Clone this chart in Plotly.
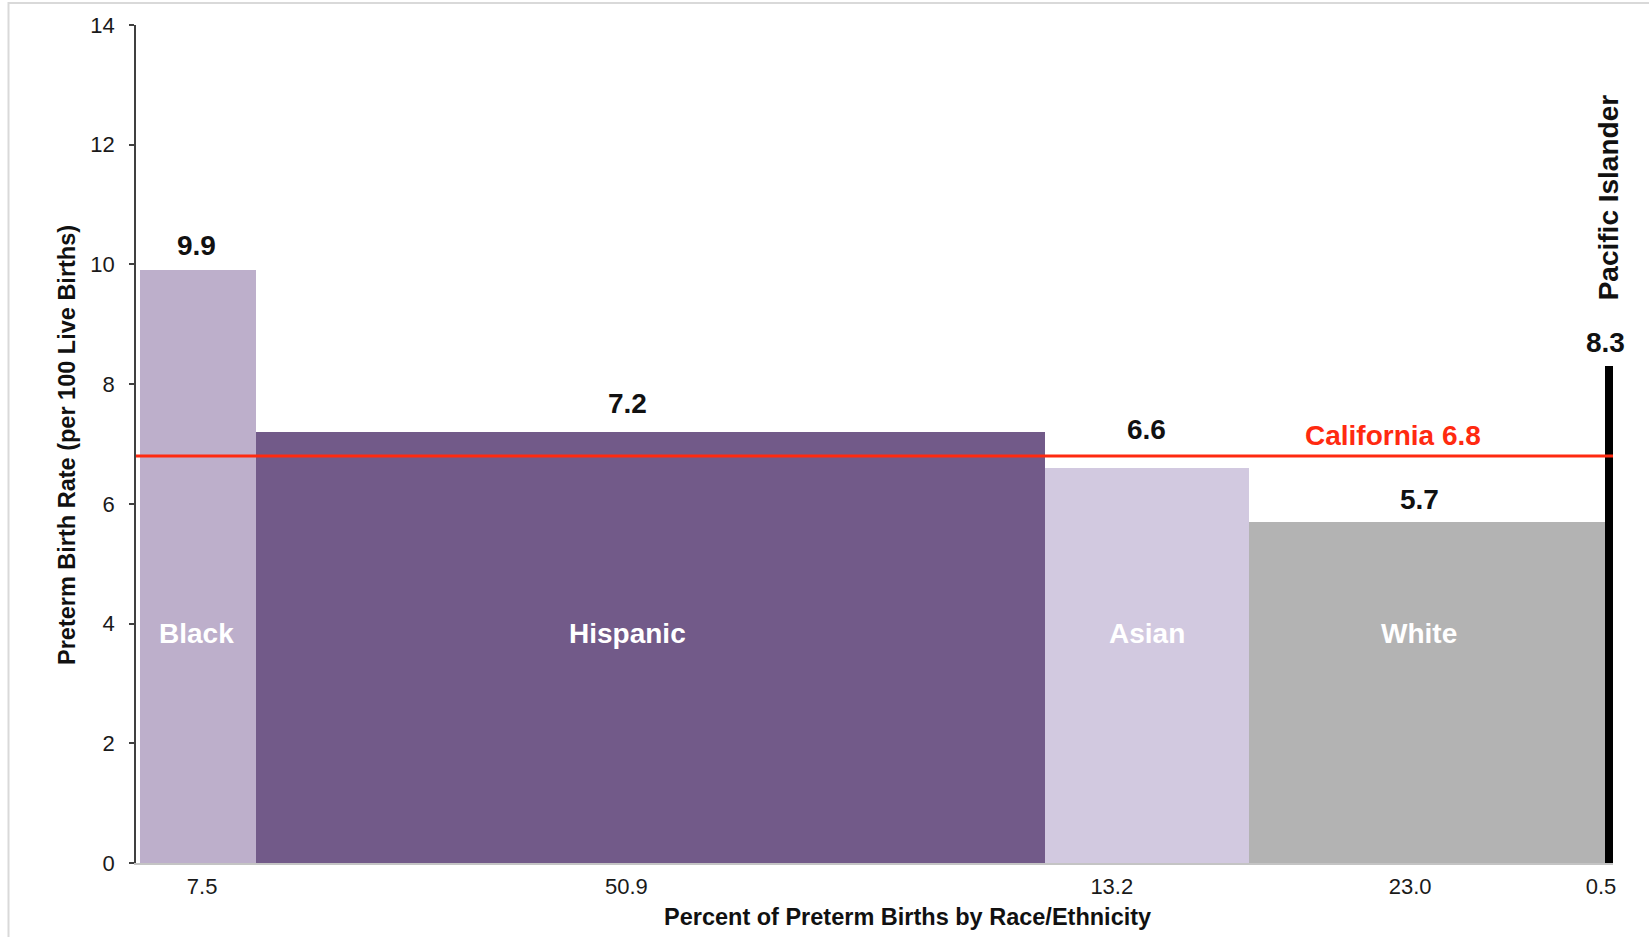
import numpy as np
import plotly.graph_objects as go

# Preterm birth rate and share of preterm births, by race/ethnicity
groups = ["Black", "Hispanic", "Asian", "White", "Pacific Islander"]
share_pct = [7.5, 50.9, 13.2, 23.0, 0.5]      # bar widths (% of preterm births)
rate = [9.9, 7.2, 6.6, 5.7, 8.3]              # bar heights (per 100 live births)
share_labels = ["7.5", "50.9", "13.2", "23.0", "0.5"]
rate_labels = ["9.9", "7.2", "6.6", "5.7", "8.3"]
state_name = "California"
state_rate = 6.8

# styling
bar_colors = ["#bdafcb", "#725a89", "#d2c9e0", "#b3b3b3", "#000000"]
inside_label = [True, True, True, True, False]
label_dx = [-2, -23, 0, -8, -4]               # px nudges for the bar captions
value_lift = [25, 29, 38, 22, 24]             # px above bar top for value labels
tick_nudge = [0.26, -1.55, -2.26, -1.10, -0.52]
FONT = "Liberation Sans, Arial, Helvetica, sans-serif"

W, H = 1649, 937
ML, MR, MT, MB = 136, 36, 25, 74
PW, PH = W - ML - MR, H - MT - MB


def px_x(px):
    return (px - ML) / PW


def px_y(py):
    return (H - MB - py) / PH


widths = np.array(share_pct)
lefts = np.concatenate([[0.0], np.cumsum(widths)[:-1]])
centers = lefts + widths / 2
total = float(widths.sum())

fig = go.Figure()
fig.add_trace(go.Bar(
    x=centers, y=rate, width=widths,
    marker=dict(color=bar_colors, line=dict(width=0)),
    hoverinfo="skip", showlegend=False,
))

annotations = []
for i, g in enumerate(groups):
    annotations.append(dict(
        x=centers[i], y=rate[i], xref="x", yref="y",
        text=rate_labels[i], showarrow=False,
        xanchor="center", yanchor="middle",
        xshift=label_dx[i], yshift=value_lift[i],
        font=dict(family=FONT, size=28, color="#111111", weight="bold"),
    ))
    if inside_label[i]:
        annotations.append(dict(
            x=centers[i], y=3.83, xref="x", yref="y",
            text=g, showarrow=False, xanchor="center", yanchor="middle",
            xshift=label_dx[i],
            font=dict(family=FONT, size=28, color="#ffffff", weight="bold"),
        ))
    else:
        annotations.append(dict(
            x=centers[i], y=rate[i], xref="x", yref="y",
            text=g, showarrow=False, textangle=-90,
            xanchor="center", yanchor="bottom", yshift=64, xshift=-1,
            font=dict(family=FONT, size=28, color="#111111", weight="bold"),
        ))

# state reference line and its label
annotations.append(dict(
    x=80.9, y=state_rate, xref="x", yref="y",
    text=f"{state_name} {state_rate}", showarrow=False,
    xanchor="center", yanchor="middle", yshift=20,
    font=dict(family=FONT, size=28, color="#ff2a10", weight="bold"),
))

# axis titles
annotations.append(dict(
    x=px_x(907), y=px_y(917), xref="paper", yref="paper",
    text="Percent of Preterm Births by Race/Ethnicity", showarrow=False,
    xanchor="center", yanchor="middle",
    font=dict(family=FONT, size=23.5, color="#111111", weight="bold"),
))
annotations.append(dict(
    x=px_x(67), y=px_y(445), xref="paper", yref="paper",
    text="Preterm Birth Rate (per 100 Live Births)", showarrow=False,
    textangle=-90, xanchor="center", yanchor="middle",
    font=dict(family=FONT, size=23.5, color="#111111", weight="bold"),
))

shapes = [
    dict(type="line", xref="paper", yref="y", x0=0, x1=1,
         y0=state_rate, y1=state_rate, layer="above",
         line=dict(color="#ff2a10", width=3)),
    # light frame around the figure
    dict(type="line", xref="paper", yref="paper",
         x0=px_x(8.5), x1=px_x(8.5), y0=px_y(2), y1=px_y(H + 5),
         line=dict(color="#d9d9d9", width=2)),
    dict(type="line", xref="paper", yref="paper",
         x0=px_x(8), x1=px_x(W + 5), y0=px_y(3), y1=px_y(3),
         line=dict(color="#d9d9d9", width=2)),
]

fig.update_layout(
    width=W, height=H,
    margin=dict(l=ML, r=MR, t=MT, b=MB, pad=0),
    paper_bgcolor="#ffffff", plot_bgcolor="#ffffff",
    bargap=0,
    font=dict(family=FONT, size=22, color="#1a1a1a"),
    annotations=annotations, shapes=shapes,
    xaxis=dict(
        range=[-0.26, total], showgrid=False, zeroline=False,
        showline=True, linecolor="#c4c4c4", linewidth=2,
        ticks="", tickvals=list(centers + np.array(tick_nudge)),
        ticktext=share_labels, ticklabelstandoff=3,
        tickfont=dict(family=FONT, size=22, color="#1a1a1a"),
        fixedrange=True,
    ),
    yaxis=dict(
        range=[0, 14], showgrid=False, zeroline=False,
        showline=True, linecolor="#404040", linewidth=1.5,
        ticks="outside", ticklen=5, tickwidth=1.5, tickcolor="#404040",
        tickvals=list(range(0, 15, 2)), ticklabelstandoff=10,
        tickfont=dict(family=FONT, size=22, color="#1a1a1a"),
        fixedrange=True,
    ),
)

fig.write_html("out.html", config={"displayModeBar": False})
